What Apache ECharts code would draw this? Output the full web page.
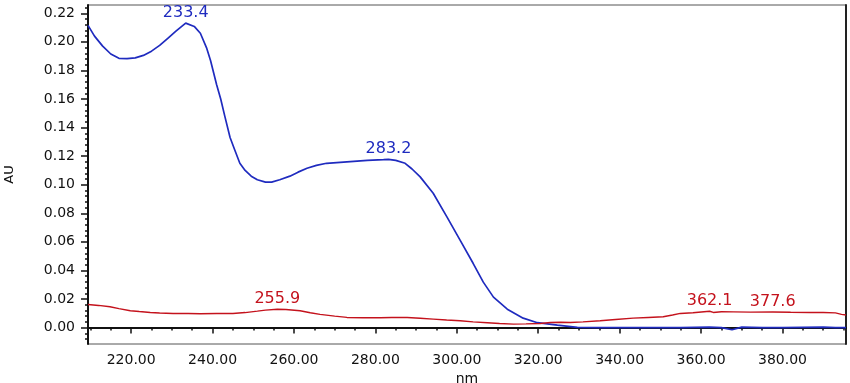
<!DOCTYPE html>
<html>
<head>
<meta charset="utf-8">
<script src="https://cdn.jsdelivr.net/npm/echarts@6/dist/echarts.min.js"></script>
<style>
  html, body { margin: 0; padding: 0; background: #fff; }
  #chart { width: 850px; height: 383px; }
</style>
</head>
<body>
<div id="chart"></div>
<script>
// blue trace (wavelength nm, absorbance AU)
const blueNm = [209.4, 211, 213, 215, 217, 219, 221, 223, 225, 227, 229, 231, 233.4, 235.5, 237, 238.5, 239.5, 241, 242, 243, 244.3, 245.5, 246.7, 248, 249.5, 251, 253, 254.5, 256.5, 259, 261, 263.2, 265.5, 268, 273, 278, 282, 283.2, 285, 287.3, 289, 291, 294.2, 297.6, 300.8, 304, 306.5, 309, 312.4, 316.3, 319.8, 324.7, 329.6, 335, 345, 355, 362, 365, 367.6, 370, 375, 380, 385, 390, 393, 395.6];
const blueAu = [0.2115, 0.204, 0.197, 0.1915, 0.1885, 0.1882, 0.1888, 0.1905, 0.1935, 0.1975, 0.2025, 0.2075, 0.2131, 0.2108, 0.206, 0.196, 0.187, 0.170, 0.160, 0.148, 0.133, 0.124, 0.115, 0.110, 0.106, 0.1035, 0.1018, 0.1018, 0.1035, 0.106, 0.1088, 0.1115, 0.1135, 0.115, 0.116, 0.117, 0.1176, 0.1178, 0.117, 0.115, 0.111, 0.1055, 0.094, 0.0773, 0.0612, 0.045, 0.0318, 0.0213, 0.0129, 0.0066, 0.0034, 0.0017, 0.0001, 0.0, 0.0, 0.0, 0.0003, 0.0, -0.0015, 0.0003, 0.0, 0.0, 0.0002, 0.0003, 0.0, 0.0];

// red trace
const redNm = [209.4, 212, 214.8, 217, 219.8, 222, 224.7, 227, 230.3, 234, 237, 241, 245, 248, 251, 253, 255.9, 258, 261.5, 264, 266.4, 270, 273, 277, 281.2, 284, 287.8, 291, 294.2, 297.5, 300.8, 304, 307.5, 310.5, 313.9, 317, 320.5, 323, 325.5, 327.9, 331, 335.2, 339, 343.3, 347, 350.7, 353, 354.9, 358, 362.1, 363, 365, 368, 372.1, 377.6, 382, 386.8, 390, 393, 394.5, 395.6];
const redAu = [0.0162, 0.0155, 0.0146, 0.0133, 0.0118, 0.0112, 0.0106, 0.0102, 0.0099, 0.0098, 0.0097, 0.0098, 0.0099, 0.0105, 0.0115, 0.0122, 0.0128, 0.0126, 0.0118, 0.0104, 0.0092, 0.0080, 0.0071, 0.0069, 0.0069, 0.0071, 0.0071, 0.0065, 0.0059, 0.0053, 0.0048, 0.0040, 0.0034, 0.0028, 0.0024, 0.0026, 0.0029, 0.0035, 0.0037, 0.0036, 0.0040, 0.0048, 0.0057, 0.0066, 0.0071, 0.0076, 0.0088, 0.0099, 0.0104, 0.0114, 0.0106, 0.0111, 0.0110, 0.0108, 0.0109, 0.0107, 0.0106, 0.0105, 0.0103, 0.0092, 0.0088];

// peak annotations
const bluePeakNm = [233.4, 283.2];
const bluePeakAu = [0.2131, 0.1178];
const bluePeakText = ['233.4', '283.2'];
const redPeakNm = [255.9, 362.1, 377.6];
const redPeakAu = [0.0128, 0.0114, 0.0109];
const redPeakText = ['255.9', '362.1', '377.6'];

// axes
const xLabelValues = [220, 240, 260, 280, 300, 320, 340, 360, 380];
const yLabelValues = [0, 0.02, 0.04, 0.06, 0.08, 0.10, 0.12, 0.14, 0.16, 0.18, 0.20, 0.22];
const xMin = 209.4, xMax = 395.6;
const yMin = -0.0115, yMax = 0.2258;

const xMinorTicks = [];
for (let v = 210; v <= 395; v += 5) xMinorTicks.push(v);
const yMinorTicks = [];
for (let k = -2; k <= 56; k++) yMinorTicks.push(Math.round(k * 4) / 1000);

const zip = (xs, ys) => xs.map((x, i) => [x, ys[i]]);
const peaks = (xs, ys, texts, color) => xs.map((x, i) => ({
  coord: [x, ys[i]],
  label: { formatter: texts[i], color: color }
}));

const font = 'DejaVu Sans';
const blue = '#1f2bbf';
const red = '#c4121c';

const chart = echarts.init(document.getElementById('chart'));

chart.setOption({
  backgroundColor: '#fff',
  animation: false,
  grid: {
    left: 88,
    right: 4,
    top: 5,
    bottom: 39,
    outerBoundsMode: 'none',
    show: true,
    borderColor: '#555',
    borderWidth: 1
  },
  xAxis: [
    {
      type: 'value',
      min: xMin,
      max: xMax,
      name: 'nm',
      nameLocation: 'middle',
      nameGap: 26,
      nameTextStyle: { fontFamily: font, fontSize: 14, color: '#111' },
      axisLine: { show: true, lineStyle: { color: '#111', width: 2 } },
      axisTick: {
        show: true,
        customValues: xLabelValues,
        length: 6,
        lineStyle: { color: '#111', width: 1.5 }
      },
      axisLabel: {
        customValues: xLabelValues,
        formatter: v => v.toFixed(2),
        fontFamily: font,
        fontSize: 14,
        color: '#111',
        margin: 9
      },
      splitLine: { show: false }
    },
    {
      type: 'value',
      min: xMin,
      max: xMax,
      position: 'bottom',
      axisLine: { show: false },
      axisTick: {
        show: true,
        customValues: xMinorTicks,
        length: 3,
        lineStyle: { color: '#111', width: 1.5 }
      },
      axisLabel: { show: false },
      splitLine: { show: false }
    }
  ],
  yAxis: [
    {
      type: 'value',
      min: yMin,
      max: yMax,
      name: 'AU',
      nameLocation: 'middle',
      nameGap: 72,
      nameRotate: 90,
      nameTextStyle: { fontFamily: font, fontSize: 13, color: '#111' },
      axisLine: { show: true, lineStyle: { color: '#111', width: 2 } },
      axisTick: {
        show: true,
        customValues: yLabelValues,
        length: 7,
        lineStyle: { color: '#111', width: 1.5 }
      },
      axisLabel: {
        customValues: yLabelValues,
        formatter: v => v.toFixed(2),
        fontFamily: font,
        fontSize: 14,
        color: '#111',
        margin: 13
      },
      splitLine: { show: false }
    },
    {
      type: 'value',
      min: yMin,
      max: yMax,
      position: 'left',
      axisLine: { show: false },
      axisTick: {
        show: true,
        customValues: yMinorTicks,
        length: 3,
        lineStyle: { color: '#111', width: 1.5 }
      },
      axisLabel: { show: false },
      splitLine: { show: false }
    },
    {
      type: 'value',
      min: yMin,
      max: yMax,
      position: 'right',
      axisLine: { show: true, lineStyle: { color: '#222', width: 2 } },
      axisTick: { show: false },
      axisLabel: { show: false },
      splitLine: { show: false }
    }
  ],
  series: [
    {
      name: 'blue',
      type: 'line',
      data: zip(blueNm, blueAu),
      symbol: 'none',
      lineStyle: { color: blue, width: 1.7 },
      markPoint: {
        symbol: 'circle',
        symbolSize: 0,
        label: {
          position: 'top',
          distance: 2,
          fontFamily: font,
          fontSize: 16
        },
        data: peaks(bluePeakNm, bluePeakAu, bluePeakText, blue)
      }
    },
    {
      name: 'red',
      type: 'line',
      data: zip(redNm, redAu),
      symbol: 'none',
      lineStyle: { color: red, width: 1.4 },
      markPoint: {
        symbol: 'circle',
        symbolSize: 0,
        label: {
          position: 'top',
          distance: 2,
          fontFamily: font,
          fontSize: 16
        },
        data: peaks(redPeakNm, redPeakAu, redPeakText, red)
      }
    }
  ]
});
</script>
</body>
</html>
